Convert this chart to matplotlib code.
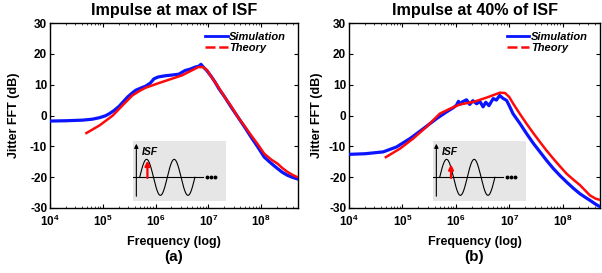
import numpy as np
import matplotlib
matplotlib.use("Agg")
import matplotlib.pyplot as plt
from matplotlib.lines import Line2D

plt.rcParams['font.family'] = ['Liberation Sans', 'DejaVu Sans']
plt.rcParams['font.weight'] = 'bold'
plt.rcParams['mathtext.fontset'] = 'custom'
plt.rcParams['mathtext.rm'] = 'Liberation Sans:bold'
plt.rcParams['mathtext.bf'] = 'Liberation Sans:bold'
plt.rcParams['mathtext.it'] = 'Liberation Sans:bold:italic'

# ---------------- data (log10 frequency, dB) ----------------
a_sim_logf = [4.0, 4.3, 4.625, 4.8, 4.94, 5.05, 5.125, 5.22, 5.31, 5.39, 5.47, 5.55, 5.625, 5.72, 5.81,
              5.9, 5.97, 6.05, 6.19, 6.3, 6.44, 6.5, 6.56, 6.65, 6.75, 6.82, 6.86, 6.9, 6.97, 7.05,
              7.125, 7.2, 7.31, 7.43, 7.56, 7.69, 7.81, 7.94, 8.06, 8.19, 8.31, 8.4, 8.5, 8.6, 8.675]
a_sim_db = [-1.8, -1.7, -1.5, -1.2, -0.7, -0.1, 0.6, 1.7, 3.0, 4.5, 6.0, 7.2, 8.2, 8.9, 9.5,
            10.5, 11.9, 12.5, 12.9, 13.1, 13.4, 14.0, 14.6, 15.0, 15.7, 16.0, 16.6, 15.8, 14.6, 12.8,
            10.9, 8.7, 6.0, 2.8, -0.5, -3.8, -7.0, -10.3, -13.5, -15.5, -17.2, -18.4, -19.4, -20.1, -20.5]
a_th_logf = [4.69, 4.94, 5.19, 5.375, 5.56, 5.7, 5.81, 6.06, 6.2, 6.375, 6.5, 6.625, 6.72, 6.81, 6.9,
             6.98, 7.06, 7.18, 7.31, 7.44, 7.56, 7.69, 7.81, 7.94, 8.06, 8.2, 8.31, 8.4, 8.5, 8.6, 8.675]
a_th_db = [-5.7, -3.2, 0.0, 3.3, 6.5, 8.0, 9.0, 10.5, 11.3, 12.3, 13.0, 14.1, 14.9, 15.7, 15.7,
           14.6, 12.5, 9.5, 6.0, 2.8, -0.5, -3.5, -6.4, -9.4, -12.4, -14.4, -15.6, -17.0, -18.3, -19.3, -19.9]

b_sim_logf = [4.0, 4.3, 4.64, 4.89, 5.14, 5.39, 5.64, 5.82, 5.95, 6.01, 6.05, 6.08, 6.12, 6.2, 6.26, 6.32,
              6.39, 6.45, 6.51, 6.56, 6.62, 6.7, 6.76, 6.82, 6.88, 6.95, 7.0, 7.07, 7.2, 7.325, 7.45,
              7.575, 7.7, 7.825, 7.95, 8.075, 8.2, 8.325, 8.42, 8.51, 8.62, 8.73]
b_sim_db = [-12.6, -12.4, -11.8, -10.2, -7.5, -4.3, -1.0, 1.1, 2.5, 3.3, 4.6, 3.6, 4.4, 5.1, 3.6, 4.8,
            3.8, 4.6, 2.8, 4.3, 3.2, 5.5, 5.0, 6.5, 5.6, 4.9, 3.2, 0.6, -2.6, -5.9, -9.0,
            -11.8, -14.6, -17.2, -19.5, -21.6, -23.6, -25.4, -26.5, -27.5, -28.8, -29.9]
b_th_logf = [4.69, 4.95, 5.2, 5.45, 5.7, 5.89, 6.08, 6.33, 6.575, 6.7, 6.825, 6.92, 7.0, 7.075, 7.2,
             7.325, 7.45, 7.575, 7.7, 7.825, 7.95, 8.075, 8.2, 8.325, 8.42, 8.51, 8.62, 8.73]
b_th_db = [-13.5, -10.8, -7.5, -3.7, 0.6, 2.2, 3.6, 4.4, 5.8, 6.6, 7.4, 7.3, 6.0, 3.8, 0.5,
           -2.7, -5.7, -8.6, -11.4, -14.0, -16.5, -18.9, -20.8, -22.6, -24.3, -25.9, -27.0, -27.5]

titles = ['Impulse at max of ISF', 'Impulse at 40% of ISF']
panel_labels = ['(a)', '(b)']
xtick_vals = [1e4, 1e5, 1e6, 1e7, 1e8]
xtick_labels = [r'$\mathbf{10^{4}}$', r'$\mathbf{10^{5}}$', r'$\mathbf{10^{6}}$',
                r'$\mathbf{10^{7}}$', r'$\mathbf{10^{8}}$']
ytick_vals = [-30, -20, -10, 0, 10, 20, 30]
legend_labels = ['Simulation', 'Theory']
# ISF impulse arrow: position (fraction of a period) and tip height (inset units)
isf_arrow_pos = [0.28, 0.41]
isf_arrow_tip = [50, 39]

W, H = 602, 273
fig = plt.figure(figsize=(W / 100, H / 100), dpi=100)

ax_boxes = [(50, 23, 298, 208), (349, 23, 600, 208)]
inset_boxes = [(133, 141, 226, 201), (433, 141, 526, 201)]
ylabel_x = [-0.121, -0.104]
sims = [(a_sim_logf, a_sim_db), (b_sim_logf, b_sim_db)]
ths = [(a_th_logf, a_th_db), (b_th_logf, b_th_db)]
BLUE = '#0a14ff'
RED = '#ff0a0a'

for i in range(2):
    l, t, r, b = ax_boxes[i]
    ax = fig.add_axes([l / W, 1 - b / H, (r - l) / W, (b - t) / H])
    sf, sd = sims[i]
    tf, td = ths[i]
    ax.plot(10 ** np.array(sf), sd, color=BLUE, lw=2.3, zorder=3)
    ax.plot(10 ** np.array(tf), td, color=RED, lw=1.8, zorder=4)
    ax.set_xscale('log')
    ax.set_xlim(1e4, 5e8)
    ax.set_ylim(-30, 30)
    ax.set_xticks(xtick_vals)
    ax.set_xticklabels(xtick_labels, fontsize=8.5)
    ax.set_yticks(ytick_vals)
    ax.set_yticklabels([str(v) for v in ytick_vals], fontsize=8.5, fontweight='bold')
    ax.tick_params(which='both', direction='in', top=True, right=True)
    ax.tick_params(which='major', length=3, width=0.8, pad=2)
    ax.tick_params(axis='x', which='major', pad=4.5)
    ax.tick_params(which='minor', length=1.5, width=0.5)
    for s in ax.spines.values():
        s.set_linewidth(1.0)
    ax.set_title(titles[i], fontsize=11.6, fontweight='bold', pad=6)
    ax.set_xlabel('Frequency (log)', fontsize=9, fontweight='bold')
    ax.xaxis.set_label_coords(0.5, -0.15)
    ax.set_ylabel('Jitter FFT (dB)', fontsize=9, fontweight='bold')
    ax.yaxis.set_label_coords(ylabel_x[i], 0.5)
    ax.text(0.5, -0.228, panel_labels[i], transform=ax.transAxes, ha='center', va='top',
            fontsize=11, fontweight='bold')
    handles = [Line2D([], [], color=BLUE, lw=2.0),
               Line2D([], [], color=RED, lw=1.8, ls=(0, (4, 1.5)))]
    leg = ax.legend(handles, legend_labels, loc='upper right', bbox_to_anchor=(0.97, 0.975),
                    frameon=False, fontsize=8, handlelength=2.0, handletextpad=0.15,
                    labelspacing=0.05, borderpad=0.2, borderaxespad=0.2)
    for txt in leg.get_texts():
        txt.set_fontstyle('italic')
        txt.set_fontweight('bold')

    # inset ISF schematic
    il, it, ir, ib = inset_boxes[i]
    ins = fig.add_axes([il / W, 1 - ib / H, (ir - il) / W, (ib - it) / H])
    ins.set_facecolor('#e6e6e6')
    for s in ins.spines.values():
        s.set_visible(False)
    ins.set_xticks([])
    ins.set_yticks([])
    ins.set_xlim(400, 678)
    ins.set_ylim(603, 423)
    ins.annotate('', xy=(410, 423), xytext=(410, 597),
                 arrowprops=dict(arrowstyle='-|>', color='black', lw=0.8, mutation_scale=6))
    ins.plot([400, 608], [532, 532], color='black', lw=0.8)
    ins.plot([620, 633, 646], [532, 532, 532], 'o', color='black', ms=1.8)
    period = 82.5
    xs = np.linspace(420, 420 + 2 * period, 200)
    ins.plot(xs, 532 - 54 * np.sin(2 * np.pi * (xs - 420) / period), color='black', lw=0.8)
    xa = 420 + isf_arrow_pos[i] * period
    ins.annotate('', xy=(xa, 532 - isf_arrow_tip[i]), xytext=(xa, 534),
                 arrowprops=dict(arrowstyle='-|>', color='red', lw=1.6, mutation_scale=7,
                                 shrinkA=0, shrinkB=0))
    ins.text(425, 455, 'ISF', fontsize=7.5, fontweight='bold', fontstyle='italic', va='center')

fig.savefig('out.png', dpi=100)
